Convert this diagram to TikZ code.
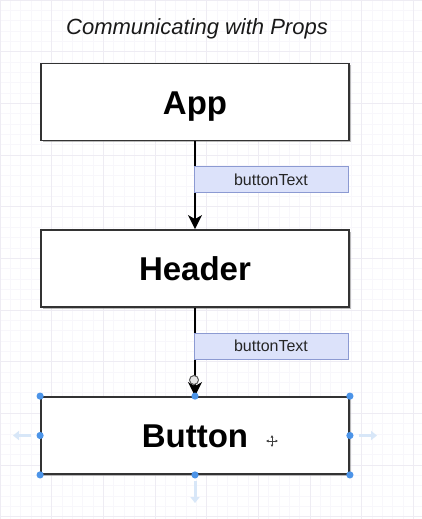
\documentclass[tikz,border=0pt]{standalone}
\usepackage{fontspec}
\setmainfont{Liberation Sans}
\usetikzlibrary{arrows.meta,shadows}
\definecolor{propfill}{HTML}{DCE2FA}
\definecolor{propline}{HTML}{8C9AD2}
\definecolor{handleblue}{HTML}{4C94E8}
\definecolor{hintblue}{HTML}{D8E7F8}
\definecolor{gridminor}{HTML}{F8F7FB}
\definecolor{gridmajor}{HTML}{EEECF3}
\begin{document}
\begin{tikzpicture}
    [
    x=1pt,y=-1pt,
    component/.style={rectangle,draw=black!80,line width=1.8pt,fill=white,
      minimum width=308pt,minimum height=77pt,inner sep=0pt,
      text height=24pt,text depth=0pt,font=\bfseries\fontsize{33}{40}\selectfont,
      drop shadow={shadow xshift=1.5pt,shadow yshift=-1.5pt,fill=black!45,opacity=0.6}},
    prop/.style={rectangle,draw=propline,line width=0.8pt,fill=propfill,
      minimum width=154pt,minimum height=26pt,inner sep=0pt,
      text height=11.5pt,text depth=0pt,text=black!85,font=\fontsize{16}{19}\selectfont},
    flow/.style={-{Stealth[length=14pt,width=14pt,inset=4pt]},line width=2pt,black},
    handle/.style={fill=handleblue},
    hint/.style={-{Triangle[length=6pt,width=9pt]},line width=3pt,hintblue}
    ]
    \useasboundingbox (0,0) rectangle (422,519);
    \fill[white] (0,0) rectangle (422,519);
    \draw[gridminor,line width=0.6pt,step=10.333pt] (0,0) grid (422,519);
    \draw[gridmajor,line width=0.6pt,step=51.667pt] (0,0) grid (422,519);
    \node (title) at (197,35) [anchor=base,text=black!90,font=\itshape\fontsize{22}{26}\selectfont] {Communicating with Props};
    \node (app) at (195,102) [component] {App};
    \node (header) at (195,268.5) [component] {Header};
    \node (button) at (195,435.5) [component] {Button};
    \draw [flow] (app) to (header);
    \draw [flow] (header) to (button);
    \draw [black!65,line width=1pt,fill=black!10] (194,380) circle (4.5pt);
    \node (prop1) at (271,179.5) [prop] {buttonText};
    \node (prop2) at (271,346) [prop] {buttonText};
    % selection handles
    \foreach \a in {north west,north,north east,west,east,south west,south,south east}
      \fill[handle] (button.\a) circle (3.6pt);
    \coordinate (lefthint) at (13,435.5);
    \coordinate (righthint) at (377,435.5);
    \coordinate (downhint) at (195,503);
    \draw [hint] ([xshift=-9pt]button.west) to (lefthint);
    \draw [hint] ([xshift=9pt]button.east) to (righthint);
    \draw [hint] ([yshift=-6pt]button.south) to (downhint);
    % move cursor
    \draw [black!75,line width=1pt,{Latex[length=2.5pt,width=3pt]}-{Latex[length=2.5pt,width=3pt]}] (266,441) -- (278,441);
    \draw [black!75,line width=1pt,{Latex[length=2.5pt,width=3pt]}-{Latex[length=2.5pt,width=3pt]}] (272,435) -- (272,447);
  \end{tikzpicture}
\end{document}
